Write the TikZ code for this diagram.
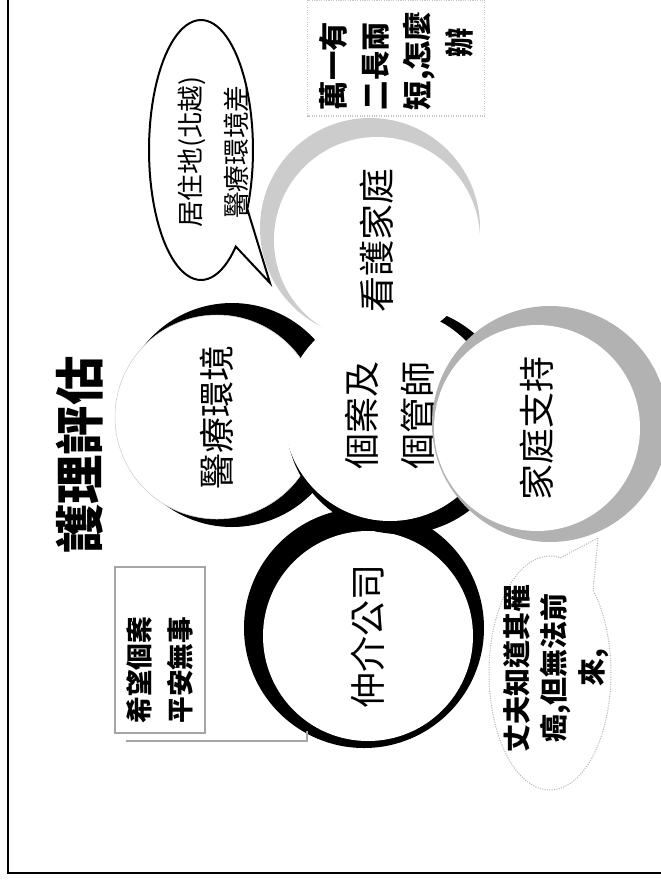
\documentclass[tikz,border=0pt]{standalone}
\usepackage{fontspec}
\setmainfont{Noto Sans CJK TC}
\usetikzlibrary{calc}

\tikzset{
  ring/.style={fill=black},
  disc/.style={circle, fill=white, inner sep=0pt, minimum size=#1*1.5pt, rotate=90, align=center},
  vlabel/.style={rotate=90, align=center},
  big/.style={font={\fontsize{27}{42}\selectfont}},
}

\begin{document}
\begin{tikzpicture}[x=0.75pt, y=-0.75pt]
    \useasboundingbox (0,0) rectangle (661,883);

    % Page frame
    \draw[line width=1.1pt] (8,0) -- (8,873) -- (661,873);

    % Medical environment
    \fill[ring] (232,415) circle (112);
    \node[disc=102, draw=gray!40, big] (med) at (217,417) {醫療環境};

    % Agency
    \fill[ring] (364,628) circle (120);
    \node[disc=105, big] (agency) at (368,636) {仲介公司};

    % Case and case manager
    \fill[ring] (400,420) circle (114);
    \node[disc=106, big] (case) at (390,415) {個案及\\個管師};

    % Nursing family
    \fill[gray!40] (370,228) circle (110);
    \node[disc=103, big] (nursing) at (377,240) {看護家庭};

    % Husband callout
    \coordinate (husbandtip) at (598,538);
    \draw[gray!55, densely dotted, line width=0.8pt, fill=white] (husbandtip)
      -- plot[domain=-45:280, samples=90, variable=\t] ({550+61*cos(\t)}, {673+117*sin(\t)}) -- cycle;
    \node[vlabel, font={\fontsize{21}{28}\selectfont\bfseries}] (husband) at (556,668) {丈夫知道其罹\\癌,但無法前\\來,};

    % Family support
    \fill[gray!60] (550,424) circle (118);
    \node[disc=103, big] (famsupp) at (537,428) {家庭支持};

    % Speech bubble
    \coordinate (bubbletip) at (270,283);
    \draw[line width=1.5pt, fill=white] (bubbletip)
      -- plot[domain=48:387, samples=90, variable=\t] ({201+52*cos(\t)}, {150+130*sin(\t)}) -- cycle;
    \node[vlabel, font={\fontsize{20}{34.5}\selectfont}] (habitat) at (213,152) {居住地(北越)\\醫療環境差};

    % Worry box
    \node[rotate=90, draw=gray!45, densely dotted, line width=0.8pt, minimum width=87pt, minimum height=132.75pt,
          text width=78pt, inner xsep=4.5pt, inner ysep=0pt, align=left, font={\fontsize{22}{31.5}\selectfont\bfseries}]
          (worry) at (396,58) {萬一有\\二長兩\\短,怎麼\\\hspace*{1.8em}辦};

    % Hope box and its line
    \node[rotate=90, draw=gray!70, line width=1.2pt, minimum width=124.5pt, minimum height=67.5pt,
          text width=110pt, inner xsep=7pt, inner ysep=0pt, align=left, font={\fontsize{20}{31}\selectfont\bfseries}]
          (hope) at (160,650) {希望個案\\平安無事};
    \coordinate (hopetail) at ($(hope.north west)+(12,7)$);
    \coordinate (agencyhook) at (307,731);
    \draw[gray!70, line width=1.2pt] (hopetail) -| (agencyhook);

    % Title
    \node[vlabel, font={\fontsize{37}{44}\selectfont\bfseries}] (title) at (80,455) {護理評估};
\end{tikzpicture}
\end{document}
